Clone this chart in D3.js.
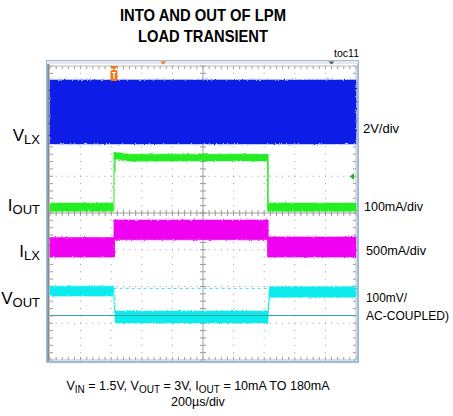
<!DOCTYPE html>
<html><head><meta charset="utf-8">
<script src="https://cdn.jsdelivr.net/npm/d3@7"></script>
<style>body{margin:0;background:#fff}svg{display:block}text{font-family:"Liberation Sans",Arial,sans-serif;fill:#000}</style>
</head><body>
<script>
// ---- data (time in divisions of 200us, amplitude in vertical divisions from centre) ----
const xDivs = [0,1,2,3,4,5,6,7,8,9,10];
const yDivs = [-4,-3,-2,-1,0,1,2,3,4];

const vlxT  = [0, 10];
const vlxLo = [1.88, 1.88];
const vlxHi = [3.62, 3.62];

const ioutT  = [0, 2.09, 2.09, 2.6, 7.12, 7.12, 10];
const ioutLo = [0.05, 0.05, 1.48, 1.41, 1.42, 0.05, 0.05];
const ioutHi = [0.27, 0.27, 1.66, 1.60, 1.60, 0.27, 0.27];

const ilxT  = [0, 2.10, 2.10, 7.12, 7.12, 10];
const ilxLo = [-1.20, -1.20, -0.73, -0.73, -1.20, -1.20];
const ilxHi = [-0.67, -0.67, -0.19, -0.19, -0.65, -0.65];

const voutT  = [0, 2.08, 2.13, 7.12, 7.17, 10];
const voutLo = [-2.26, -2.26, -2.99, -2.99, -2.29, -2.29];
const voutHi = [-1.99, -1.99, -2.67, -2.67, -2.01, -2.01];

const voutRef = -2.79, voutDash = -2.05;
const trigT = 2.09, ioutLevel = 0.99;

const channelLabels = [
  {main:"V", sub:"LX",  y:141},
  {main:"I", sub:"OUT", y:211},
  {main:"I", sub:"LX",  y:257},
  {main:"V", sub:"OUT", y:304}
];
const scaleLabels = [
  {t:"2V/div", x:363, y:133, w:36, s:13},
  {t:"100mA/div", x:364, y:211, w:59, s:13},
  {t:"500mA/div", x:366, y:255, w:60, s:13},
  {t:"100mV/", x:366, y:302, w:41, s:13},
  {t:"AC-COUPLED)", x:366, y:320, w:83, s:12}
];

// ---- drawing ----
const svg = d3.select("body").append("svg").attr("width",453).attr("height",416);
const defs = svg.append("defs");
const f = defs.append("filter").attr("id","noise").attr("x","-2%").attr("y","-20%").attr("width","104%").attr("height","140%");
f.append("feTurbulence").attr("type","fractalNoise").attr("baseFrequency","0.9 0.6").attr("numOctaves",1).attr("seed",3).attr("result","n");
f.append("feDisplacementMap").attr("in","SourceGraphic").attr("in2","n").attr("scale",3).attr("xChannelSelector","R").attr("yChannelSelector","G");

const x = d3.scaleLinear().domain([0,10]).range([50,356]);
const y = d3.scaleLinear().domain([-4,4]).range([360,66]);

// title
svg.append("text").attr("x",203).attr("y",21).attr("text-anchor","middle")
  .attr("font-weight","bold").attr("font-size",17).attr("textLength",166).attr("lengthAdjust","spacingAndGlyphs")
  .text("INTO AND OUT OF LPM");
svg.append("text").attr("x",203).attr("y",41.5).attr("text-anchor","middle")
  .attr("font-weight","bold").attr("font-size",17).attr("textLength",130).attr("lengthAdjust","spacingAndGlyphs")
  .text("LOAD TRANSIENT");
svg.append("text").attr("x",359).attr("y",56.5).attr("text-anchor","end").attr("font-size",10.5).text("toc11");

// frame
svg.append("rect").attr("x",47).attr("y",61).attr("width",311).attr("height",301)
  .attr("fill","#fff").attr("stroke","#9cbbe0").attr("stroke-width",2);
svg.append("rect").attr("x",47).attr("y",61).attr("width",311).attr("height",3).attr("fill","#e8e8e8");
svg.append("line").attr("x1",48.5).attr("x2",48.5).attr("y1",64).attr("y2",361).attr("stroke","#8a8a8a").attr("stroke-width",2);

const g = svg.append("g");
const minorX = d3.range(0,10.001,0.2), minorY = d3.range(-4,4.001,0.2);

// dotted grid
xDivs.slice(1,-1).filter(d=>d!==5).forEach(d=>{
  g.selectAll(null).data(minorY).enter().append("rect")
    .attr("x",x(d)-0.5).attr("y",v=>y(v)-0.5).attr("width",1).attr("height",1).attr("fill","#9a9a9a");
});
yDivs.slice(1,-1).filter(d=>d!==0).forEach(d=>{
  g.selectAll(null).data(minorX).enter().append("rect")
    .attr("x",v=>x(v)-0.5).attr("y",y(d)-0.5).attr("width",1).attr("height",1).attr("fill","#9a9a9a");
});
// centre cross with ticks
g.append("line").attr("x1",x(0)).attr("x2",x(10)).attr("y1",y(0)).attr("y2",y(0)).attr("stroke","#a0a0a0");
g.append("line").attr("x1",x(5)).attr("x2",x(5)).attr("y1",y(-4)).attr("y2",y(4)).attr("stroke","#a0a0a0");
g.selectAll(null).data(minorX).enter().append("line")
  .attr("x1",d=>x(d)).attr("x2",d=>x(d)).attr("y1",y(0)-3).attr("y2",y(0)+3).attr("stroke","#999");
g.selectAll(null).data(minorY).enter().append("line")
  .attr("y1",d=>y(d)).attr("y2",d=>y(d)).attr("x1",x(5)-3).attr("x2",x(5)+3).attr("stroke","#999");
// edge ticks
g.selectAll(null).data(minorX).enter().append("line")
  .attr("x1",d=>x(d)).attr("x2",d=>x(d)).attr("y1",y(4)).attr("y2",y(4)+3).attr("stroke","#999");
g.selectAll(null).data(minorX).enter().append("line")
  .attr("x1",d=>x(d)).attr("x2",d=>x(d)).attr("y1",y(-4)).attr("y2",y(-4)-3).attr("stroke","#999");
g.selectAll(null).data(minorY).enter().append("line")
  .attr("y1",d=>y(d)).attr("y2",d=>y(d)).attr("x1",x(0)).attr("x2",x(0)+3).attr("stroke","#999");
g.selectAll(null).data(minorY).enter().append("line")
  .attr("y1",d=>y(d)).attr("y2",d=>y(d)).attr("x1",x(10)).attr("x2",x(10)-3).attr("stroke","#999");
g.append("line").attr("x1",x(0)).attr("x2",x(10)).attr("y1",y(4)).attr("y2",y(4)).attr("stroke","#bbb");
g.append("line").attr("x1",x(0)).attr("x2",x(10)).attr("y1",y(-4)).attr("y2",y(-4)).attr("stroke","#bbb");
g.append("line").attr("x1",x(10)).attr("x2",x(10)).attr("y1",y(-4)).attr("y2",y(4)).attr("stroke","#bbb");

// vout dashed reference (under traces)
g.append("line").attr("x1",x(voutT[1])).attr("x2",x(voutT[3])).attr("y1",y(voutDash)).attr("y2",y(voutDash))
  .attr("stroke","#40d8d8").attr("stroke-width",1).attr("stroke-dasharray","3,3");

// traces
const tg = g.append("g").attr("filter","url(#noise)");
function band(T,Lo,Hi,color){
  const pts = T.map((t,i)=>({t,lo:Lo[i],hi:Hi[i]}));
  tg.append("path").datum(pts)
   .attr("d",d3.area().x(d=>x(d.t)).y0(d=>y(d.lo)).y1(d=>y(d.hi)))
   .attr("fill",color).attr("stroke",color).attr("stroke-width",0.6);
}
band(vlxT,vlxLo,vlxHi,"#0a1ee6");
band(ioutT,ioutLo,ioutHi,"#22ee22");
band(ilxT,ilxLo,ilxHi,"#f000f0");
band(voutT,voutLo,voutHi,"#10ecec");
// edges
g.append("line").attr("x1",x(ioutT[1])).attr("x2",x(ioutT[1])).attr("y1",y(ioutLo[1])).attr("y2",y(ioutHi[2]))
  .attr("stroke","#8ff08f").attr("stroke-width",1);
g.append("line").attr("x1",x(ioutT[1])+1).attr("x2",x(ioutT[1])+1).attr("y1",y(ioutHi[2])).attr("y2",y(1.12))
  .attr("stroke","#22dd22").attr("stroke-width",1);
g.append("line").attr("x1",x(ioutT[4])).attr("x2",x(ioutT[4])).attr("y1",y(ioutLo[5])).attr("y2",y(ioutHi[4]))
  .attr("stroke","#22ee22").attr("stroke-width",1.2);
g.append("line").attr("x1",x(ilxT[1])).attr("x2",x(ilxT[1])).attr("y1",y(ilxLo[1])).attr("y2",y(ilxHi[2]))
  .attr("stroke","#f000f0").attr("stroke-width",1.2);
g.append("line").attr("x1",x(ilxT[3])).attr("x2",x(ilxT[3])).attr("y1",y(ilxLo[4])).attr("y2",y(ilxHi[3]))
  .attr("stroke","#f000f0").attr("stroke-width",1.2);
g.append("line").attr("x1",x(0)).attr("x2",x(10)).attr("y1",y(voutRef)).attr("y2",y(voutRef))
  .attr("stroke","#3a9c9c").attr("stroke-width",1);

// markers
const tx = x(trigT);
svg.append("path").attr("d",`M${tx-4},${y(4)} L${tx+4},${y(4)} L${tx},${y(4)+4}Z`).attr("fill","#f07818");
svg.append("rect").attr("x",tx-3.5).attr("y",y(4)+4).attr("width",7).attr("height",11).attr("rx",1.5).attr("fill","#f07818");
svg.append("path").attr("d",`M${tx-2},${y(4)+6.5} H${tx+2} M${tx},${y(4)+6.5} V${y(4)+13}`)
  .attr("stroke","#fff").attr("stroke-width",1.2).attr("fill","none");
svg.append("path").attr("d",`M${x(3.7)-3},61.5 H${x(3.7)+3} L${x(3.7)},64.5Z`).attr("fill","#f07818");
svg.append("path").attr("d",`M${x(9.2)-3},61.5 H${x(9.2)+3} L${x(9.2)},64.5Z`).attr("fill","#555");
const gy = y(ioutLevel);
svg.append("path").attr("d",`M${x(10)-6},${gy} L${x(10)-2},${gy-3.5} L${x(10)-2},${gy+3.5}Z`).attr("fill","#22aa22");

// channel labels
channelLabels.forEach(l=>{
  const t = svg.append("text").attr("x",40).attr("y",l.y).attr("text-anchor","end").attr("font-size",17);
  t.append("tspan").text(l.main);
  t.append("tspan").attr("font-size",13).attr("dy",3).text(l.sub);
});
scaleLabels.forEach(l=>{
  svg.append("text").attr("x",l.x).attr("y",l.y).attr("font-size",l.s)
    .attr("textLength",l.w).attr("lengthAdjust","spacingAndGlyphs").text(l.t);
});

// bottom caption
const cap = svg.append("text").attr("x",198).attr("y",390).attr("text-anchor","middle").attr("font-size",12.5);
[["V",0],["IN",1],[" = 1.5V, V",0],["OUT",1],[" = 3V, I",0],["OUT",1],[" = 10mA TO 180mA",0]].forEach((p,i,a)=>{
  const prevSub = i>0 && a[i-1][1];
  const dy = p[1] ? 3 : (prevSub ? -3 : 0);
  cap.append("tspan").attr("dy",dy).attr("font-size",p[1]?10:12.5).text(p[0]);
});
svg.append("text").attr("x",198).attr("y",406).attr("text-anchor","middle").attr("font-size",12.5).text("200µs/div");
</script>
</body></html>
